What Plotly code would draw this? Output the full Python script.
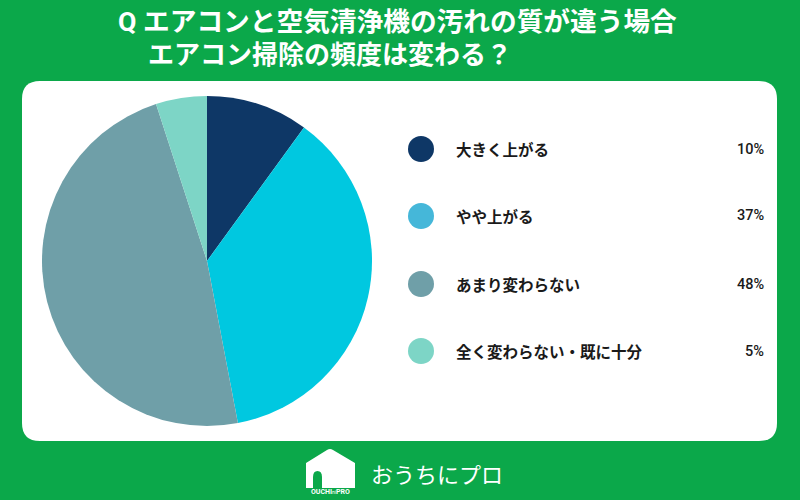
import plotly.graph_objects as go

W, H = 800, 500

# ---- data ----
categories = ["大きく上がる", "やや上がる", "あまり変わらない", "全く変わらない・既に十分"]
values = [10, 37, 48, 5]
pct_labels = ["10%", "37%", "48%", "5%"]
pie_colors = ["#0E3766", "#00C8E0", "#6F9FA8", "#7DD5C6"]
legend_colors = ["#0E3766", "#45B7D9", "#6F9FA8", "#7DD5C6"]
title_lines = ["Q エアコンと空気清浄機の汚れの質が違う場合", "エアコン掃除の頻度は変わる？"]
brand = "おうちにプロ"

GREEN = "#0BA84A"
FONT = "Noto Sans CJK JP"
TITLE_FONT = "Roboto, 'Noto Sans CJK JP'"


def px(x):
    return x / W


def py(y):
    return 1 - y / H


fig = go.Figure()

# pie: center (207, 261), radius 165
cx, cy, r = 207, 261, 165
fig.add_trace(go.Pie(
    labels=categories, values=values, sort=False, direction="clockwise", rotation=0,
    marker=dict(colors=pie_colors, line=dict(width=0)),
    textinfo="none", hoverinfo="label+percent", showlegend=False,
    domain=dict(x=[px(cx - r), px(cx + r)], y=[py(cy + r), py(cy - r)]),
))

shapes = []
# white rounded panel
x0, y0, x1, y1, rr = 22, 81, 777, 441, 18
path = (f"M {px(x0+rr)},{py(y0)} L {px(x1-rr)},{py(y0)} "
        f"Q {px(x1)},{py(y0)} {px(x1)},{py(y0+rr)} L {px(x1)},{py(y1-rr)} "
        f"Q {px(x1)},{py(y1)} {px(x1-rr)},{py(y1)} L {px(x0+rr)},{py(y1)} "
        f"Q {px(x0)},{py(y1)} {px(x0)},{py(y1-rr)} L {px(x0)},{py(y0+rr)} "
        f"Q {px(x0)},{py(y0)} {px(x0+rr)},{py(y0)} Z")
shapes.append(dict(type="path", xref="paper", yref="paper", path=path,
                   fillcolor="white", line=dict(width=0), layer="below"))

# legend circles + labels + percentages
rows_y = [149, 216, 284, 351]
annotations = []
for i, cat in enumerate(categories):
    yy = rows_y[i]
    shapes.append(dict(type="circle", xref="paper", yref="paper",
                       x0=px(421 - 13), x1=px(421 + 13), y0=py(yy + 13), y1=py(yy - 13),
                       fillcolor=legend_colors[i], line=dict(width=0)))
    annotations.append(dict(x=px(454), y=py(yy), xref="paper", yref="paper",
                            xanchor="left", yanchor="middle", showarrow=False,
                            text=f"<b>{cat}</b>",
                            font=dict(family=FONT, size=15.5, color="#1a1a1a")))
    annotations.append(dict(x=px(766), y=py(yy), xref="paper", yref="paper",
                            xanchor="right", yanchor="middle", showarrow=False,
                            text=pct_labels[i],
                            font=dict(family="Roboto", size=14.5, weight=500, color="#1a1a1a")))

# title
annotations.append(dict(x=px(116), y=py(22), xref="paper", yref="paper",
                        xanchor="left", yanchor="middle", showarrow=False,
                        text=f"<b>{title_lines[0]}</b>",
                        font=dict(family=TITLE_FONT, size=26.7, color="white")))
annotations.append(dict(x=px(146), y=py(55), xref="paper", yref="paper",
                        xanchor="left", yanchor="middle", showarrow=False,
                        text=f"<b>{title_lines[1]}</b>",
                        font=dict(family=TITLE_FONT, size=26, color="white")))

# logo house
hx0, hx1, hpeak, hsh, hb = 306, 355, 449, 463, 488
house = (f"M {px(hx0)},{py(hb)} L {px(hx0)},{py(hsh)} "
         f"L {px(327)},{py(hpeak+1)} Q {px(330)},{py(hpeak-1)} {px(333)},{py(hpeak+1)} "
         f"L {px(hx1)},{py(hsh)} "
         f"L {px(hx1)},{py(hb)} Z")
shapes.append(dict(type="path", xref="paper", yref="paper", path=house,
                   fillcolor="white", line=dict(width=0)))
door = (f"M {px(313)},{py(hb)} L {px(313)},{py(477)} "
        f"Q {px(313)},{py(471)} {px(317.5)},{py(471)} "
        f"Q {px(322)},{py(471)} {px(322)},{py(477)} L {px(322)},{py(hb)} Z")
shapes.append(dict(type="path", xref="paper", yref="paper", path=door,
                   fillcolor=GREEN, line=dict(width=0)))
annotations.append(dict(x=px(330), y=py(492), xref="paper", yref="paper",
                        xanchor="center", yanchor="middle", showarrow=False,
                        text="<b>OUCHI</b><span style='font-size:5px'>ni</span><b>PRO</b>",
                        font=dict(family="Roboto", size=7, color="white")))
annotations.append(dict(x=px(369), y=py(473), xref="paper", yref="paper",
                        xanchor="left", yanchor="middle", showarrow=False,
                        text=brand,
                        font=dict(family=FONT, size=22, color="white")))

fig.update_layout(
    width=W, height=H, margin=dict(l=0, r=0, t=0, b=0),
    paper_bgcolor=GREEN, plot_bgcolor=GREEN,
    shapes=shapes, annotations=annotations,
)

fig.write_html("out.html")
